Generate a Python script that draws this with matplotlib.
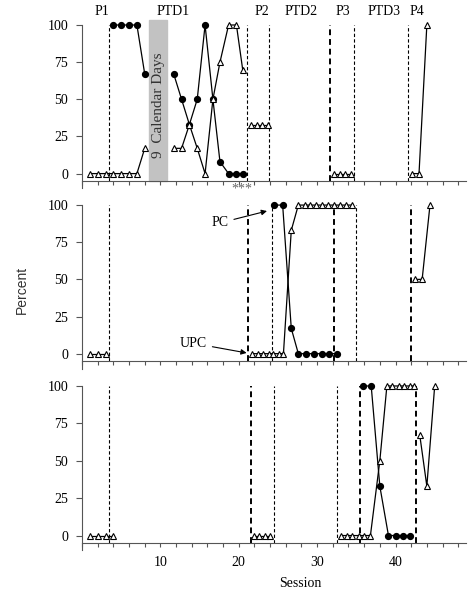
import matplotlib
matplotlib.use("Agg")
import matplotlib.pyplot as plt

plt.rcParams['font.family'] = ['Liberation Serif', 'DejaVu Serif']

# phase labels on top of panel 1
phase_names = ['P1', 'PTD1', 'P2', 'PTD2', 'P3', 'PTD3', 'P4']
phase_x = [2.5, 11.6, 22.9, 27.9, 33.3, 38.6, 42.7]

# panel 1
p1_tri = [
    ([1, 2, 3, 4, 5, 6, 7, 8], [0, 0, 0, 0, 0, 0, 0, 17]),
    ([11.7, 12.7, 13.7, 14.7, 15.7, 16.7, 17.6, 18.7, 19.7, 20.5],
     [17, 17, 33, 17, 0, 50, 75, 100, 100, 70]),
    ([21.5, 22.3, 23.0, 23.7], [33, 33, 33, 33]),
    ([32.2, 32.9, 33.6, 34.3], [0, 0, 0, 0]),
    ([42.1, 43.0, 44.0], [0, 0, 100]),
]
p1_circ = [
    ([4, 5, 6, 7, 8], [100, 100, 100, 100, 67]),
    ([11.7, 12.7, 13.7, 14.7, 15.7, 16.7, 17.6, 18.7, 19.7, 20.5],
     [67, 50, 33, 50, 100, 50, 8, 0, 0, 0]),
]
p1_lines = [3.5, 21.0, 23.9, 31.7, 34.7, 41.6]
p1_heavy = [False, False, False, True, False, False]

# panel 2
p2_tri = [
    ([1, 2, 3], [0, 0, 0]),
    ([21.7, 22.4, 23.1, 23.8, 24.4, 25.1, 25.7, 26.7, 27.6, 28.4, 29.1,
      29.9, 30.6, 31.4, 32.2, 32.9, 33.7, 34.5],
     [0, 0, 0, 0, 0, 0, 0, 83, 100, 100, 100, 100, 100, 100, 100, 100, 100, 100]),
    ([42.5, 43.4, 44.4], [50, 50, 100]),
]
p2_circ = [
    ([24.5, 25.6, 26.7, 27.6, 28.6, 29.6, 30.6, 31.5, 32.5],
     [100, 100, 17, 0, 0, 0, 0, 0, 0]),
]
p2_lines = [3.5, 21.2, 24.2, 32.1, 35.0, 42.0]
p2_heavy = [False, True, False, True, False, True]

# panel 3
p3_tri = [
    ([1, 2, 3, 4], [0, 0, 0, 0]),
    ([21.9, 22.6, 23.3, 24.0], [0, 0, 0, 0]),
    ([33.0, 33.8, 34.5, 35.3, 36.0, 36.8, 38.0, 38.9, 39.6, 40.4, 41.1, 41.8, 42.4],
     [0, 0, 0, 0, 0, 0, 50, 100, 100, 100, 100, 100, 100]),
    ([43.1, 44.0, 45.0], [67, 33, 100]),
]
p3_circ = [
    ([35.8, 36.9, 38.0, 39.1, 40.0, 41.0, 41.9], [100, 100, 33, 0, 0, 0, 0]),
]
p3_lines = [3.5, 21.5, 24.5, 32.5, 35.5, 42.6]
p3_heavy = [False, True, False, False, True, True]

yticks = [0, 25, 50, 75, 100]


def draw_panel(ax, tri, circ, lines, heavy, show_xlabels=False):
    for x, h in zip(lines, heavy):
        ax.plot([x, x], [-5, 100], color='black', linestyle=(0, (3, 2)),
                lw=1.4 if h else 0.8, zorder=1, clip_on=False)
    for xs, ys in circ:
        ax.plot(xs, ys, color='black', lw=0.9, marker='o', ms=4.2,
                mfc='black', mec='black', zorder=3, clip_on=False)
    for xs, ys in tri:
        ax.plot(xs, ys, color='black', lw=0.9, marker='^', ms=5,
                mfc='white', mec='black', mew=0.8, zorder=4, clip_on=False)
    ax.set_xlim(0, 49)
    ax.set_ylim(-5, 100)
    ax.set_yticks(yticks)
    ax.set_xticks(range(0, 49, 2))
    if show_xlabels:
        ax.set_xticklabels([str(v) if v % 10 == 0 and v > 0 else ''
                            for v in range(0, 49, 2)])
    else:
        ax.set_xticklabels([])
    ax.spines['top'].set_visible(False)
    ax.spines['right'].set_visible(False)
    ax.spines['left'].set_bounds(-10, 100)
    ax.spines['left'].set_color('#555555')
    ax.spines['bottom'].set_color('#555555')
    ax.tick_params(axis='y', length=4, width=0.8, color='#555555', pad=6,
                   labelsize=10)
    ax.tick_params(axis='x', length=3, width=0.8, color='#555555', pad=6,
                   labelsize=10)


fig = plt.figure(figsize=(4.77, 5.91), dpi=100)
left, width = 0.172, 0.805
ax1 = fig.add_axes([left, 0.6937, width, 0.264])
ax2 = fig.add_axes([left, 0.389, width, 0.264])
ax3 = fig.add_axes([left, 0.0812, width, 0.2657])

draw_panel(ax1, p1_tri, p1_circ, p1_lines, p1_heavy)
draw_panel(ax2, p2_tri, p2_circ, p2_lines, p2_heavy)
draw_panel(ax3, p3_tri, p3_circ, p3_lines, p3_heavy, show_xlabels=True)

# gap of 9 calendar days
ax1.axvspan(8.6, 10.9, ymin=0, ymax=1.03, color='#c2c2c2', zorder=0,
            clip_on=False)
ax1.text(9.75, 46, '9  Calendar Days', rotation=90, ha='center', va='center',
         fontsize=11, color='#333333')

for name, x in zip(phase_names, phase_x):
    ax1.text(x, 109, name, ha='center', va='center', fontsize=10)

ax1.text(20.4, -10.5, '***', ha='center', va='center', fontsize=10,
         color='#666666')

ax2.annotate('PC', xy=(23.6, 96), xytext=(17.6, 88), ha='center', va='center',
             fontsize=10,
             arrowprops=dict(arrowstyle='-|>', color='black', lw=0.8,
                             mutation_scale=8, shrinkA=2, shrinkB=0))
ax2.annotate('UPC', xy=(21.0, 0.5), xytext=(14.2, 7), ha='center', va='center',
             fontsize=10,
             arrowprops=dict(arrowstyle='-|>', color='black', lw=0.8,
                             mutation_scale=8, shrinkA=2, shrinkB=0))

fig.text(0.045, 0.51, 'Percent', rotation=90, ha='center', va='center',
         fontsize=10, family=['Liberation Sans', 'DejaVu Sans'], color='#333333')
fig.text(0.63, 0.002, 'Session', ha='center', va='bottom', fontsize=10)

fig.savefig('out.png', dpi=100)
